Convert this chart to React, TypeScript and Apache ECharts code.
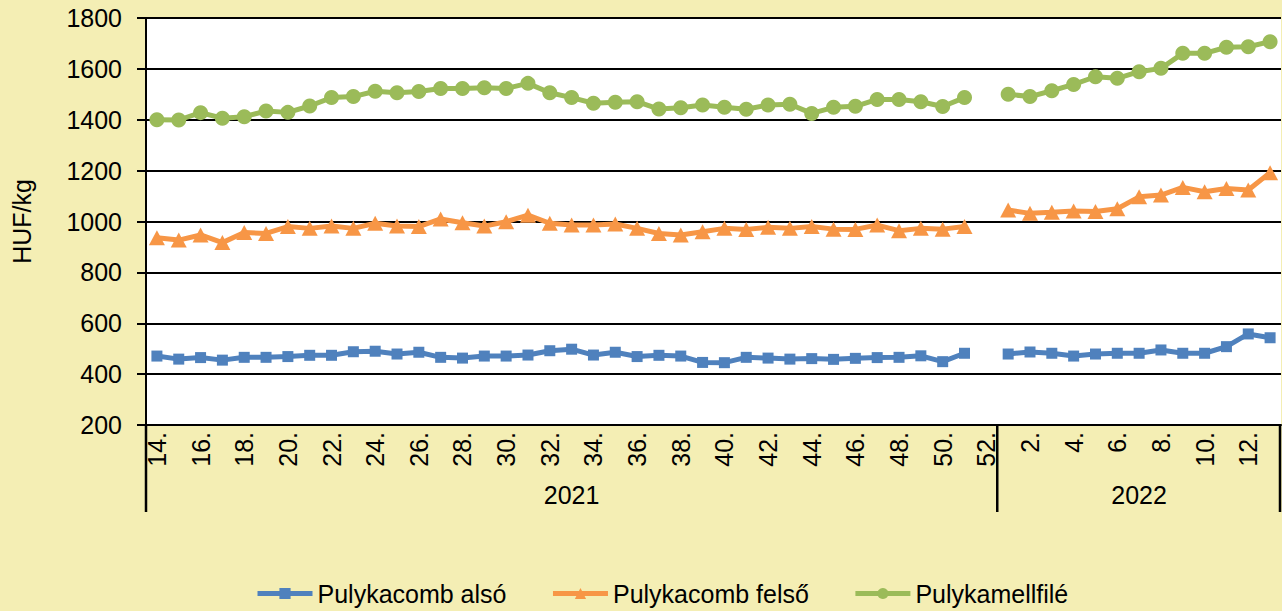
import React, { useEffect, useRef } from "react";
import * as echarts from "echarts";

const weeks2021 = ["14.","15.","16.","17.","18.","19.","20.","21.","22.","23.","24.","25.","26.","27.","28.","29.","30.","31.","32.","33.","34.","35.","36.","37.","38.","39.","40.","41.","42.","43.","44.","45.","46.","47.","48.","49.","50.","51.","52."];
const weeks2022 = ["1.","2.","3.","4.","5.","6.","7.","8.","9.","10.","11.","12.","13."];
const categories = [...weeks2021, ...weeks2022];
const years = ["2021", "2022"];

const combAlso = [471,459,465,455,466,466,469,474,474,488,490,479,486,466,463,471,471,475,492,498,475,486,469,474,471,446,445,466,463,459,461,458,462,465,466,472,449,482,null,479,487,482,471,479,482,482,495,482,482,508,558,543];
const combFelso = [936,927,947,917,957,953,980,973,982,973,993,982,980,1010,995,982,999,1025,993,986,986,990,973,953,947,960,973,969,977,973,980,970,969,986,964,973,970,980,null,1045,1032,1036,1041,1039,1050,1097,1104,1134,1117,1130,1124,1192];
const mellfile = [1400,1399,1428,1406,1412,1434,1429,1454,1487,1491,1512,1506,1511,1523,1523,1526,1523,1543,1506,1487,1465,1469,1471,1442,1447,1458,1449,1441,1458,1461,1425,1449,1453,1480,1480,1471,1452,1487,null,1500,1491,1514,1539,1569,1563,1589,1602,1661,1661,1685,1687,1707];

const FONT = "'Liberation Sans', Arial, sans-serif";

export default function App() {
  const ref = useRef<HTMLDivElement>(null);
  useEffect(() => {
    if (!ref.current) return;
    const chart = echarts.init(ref.current, null, { renderer: "svg" });
    const option: any = {
      animation: false,
      backgroundColor: "#F4EEB4",
      textStyle: { fontFamily: FONT, color: "#000" },
      grid: { left: 146, right: 1, top: 18, bottom: 186, show: true, backgroundColor: "#ffffff", borderWidth: 0 },
      legend: {
        left: 250,
        top: 576,
        itemWidth: 55,
        itemHeight: 14,
        itemGap: 44,
        lineStyle: { width: 5 },
        textStyle: { fontSize: 25, fontFamily: FONT, color: "#000" },
        data: ["Pulykacomb alsó", "Pulykacomb felső", "Pulykamellfilé"],
      },
      xAxis: {
        type: "category",
        data: categories,
        boundaryGap: true,
        axisLine: { lineStyle: { color: "#000", width: 2 } },
        axisTick: { show: false },
        axisLabel: { rotate: 90, interval: 1, fontSize: 25, margin: 7, color: "#000", fontFamily: FONT },
        splitLine: { show: false },
      },
      yAxis: {
        type: "value",
        min: 200,
        max: 1800,
        interval: 200,
        name: "HUF/kg",
        nameLocation: "middle",
        nameGap: 112,
        nameTextStyle: { fontSize: 25, color: "#000", fontFamily: FONT },
        axisLine: { show: true, lineStyle: { color: "#000", width: 2 } },
        axisTick: { show: true, length: 9, lineStyle: { color: "#000", width: 2 } },
        axisLabel: { fontSize: 25, margin: 24, color: "#000", fontFamily: FONT, formatter: (v: number) => String(v) },
        splitLine: { lineStyle: { color: "#000", width: 2 } },
      },
      series: [
        {
          name: "Pulykacomb alsó",
          type: "line",
          data: combAlso,
          connectNulls: false,
          showAllSymbol: true,
          symbol: "rect",
          symbolSize: 11,
          itemStyle: { color: "#4F81BD" },
          lineStyle: { color: "#4F81BD", width: 5 },
        },
        {
          name: "Pulykacomb felső",
          type: "line",
          data: combFelso,
          connectNulls: false,
          showAllSymbol: true,
          symbol: "triangle",
          symbolSize: [16, 15],
          itemStyle: { color: "#F79646" },
          lineStyle: { color: "#F79646", width: 5 },
        },
        {
          name: "Pulykamellfilé",
          type: "line",
          data: mellfile,
          connectNulls: false,
          showAllSymbol: true,
          symbol: "circle",
          symbolSize: 15,
          itemStyle: { color: "#9BBB59" },
          lineStyle: { color: "#9BBB59", width: 5 },
        },
      ],
    };
    chart.setOption(option);

    const c0 = chart.convertToPixel({ xAxisIndex: 0 }, 0) as number;
    const c1 = chart.convertToPixel({ xAxisIndex: 0 }, 1) as number;
    const band = c1 - c0;
    const split = weeks2021.length;
    const xLeft = c0 - band / 2;
    const xMid = (chart.convertToPixel({ xAxisIndex: 0 }, split) as number) - band / 2;
    const xRight = (chart.convertToPixel({ xAxisIndex: 0 }, categories.length - 1) as number) + band / 2;
    const yBase = chart.convertToPixel({ yAxisIndex: 0 }, 200) as number;
    const yEnd = yBase + 87;
    const lineStyle = { stroke: "#000", lineWidth: 2.5 };
    chart.setOption({
      graphic: [
        { type: "line", shape: { x1: xLeft, y1: yBase, x2: xLeft, y2: yEnd }, style: lineStyle },
        { type: "line", shape: { x1: xMid, y1: yBase, x2: xMid, y2: yEnd }, style: lineStyle },
        { type: "line", shape: { x1: xRight - 1, y1: yBase, x2: xRight - 1, y2: yEnd }, style: lineStyle },
        { type: "text", x: (xLeft + xMid) / 2, y: yBase + 70, style: { text: years[0], fontSize: 25, fontFamily: FONT, fill: "#000", align: "center", verticalAlign: "middle" } },
        { type: "text", x: (xMid + xRight) / 2, y: yBase + 70, style: { text: years[1], fontSize: 25, fontFamily: FONT, fill: "#000", align: "center", verticalAlign: "middle" } },
      ],
    });
    return () => chart.dispose();
  }, []);
  return <div ref={ref} style={{ position: "absolute", left: 0, top: 0, width: 1282, height: 611 }} />;
}
